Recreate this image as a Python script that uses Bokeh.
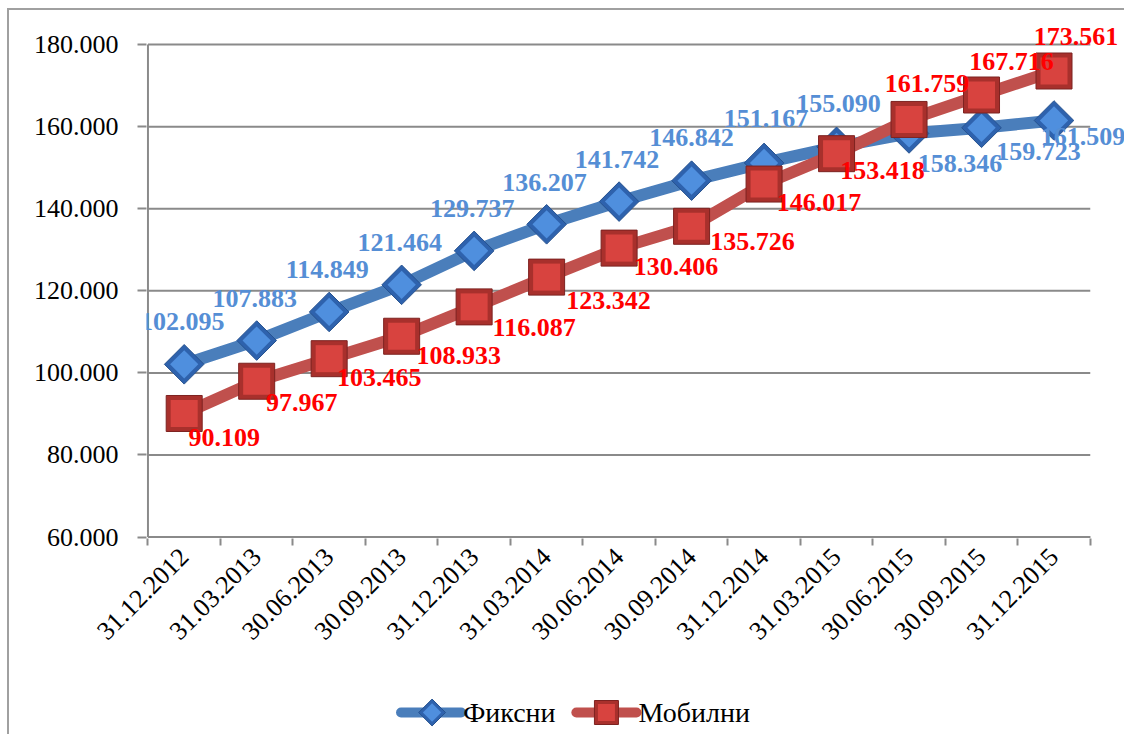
import math
from bokeh.plotting import figure
from bokeh.layouts import column
from bokeh.models import ColumnDataSource, Range1d, FixedTicker, LabelSet
from bokeh.core.properties import value
from bokeh.embed import file_html
from bokeh.resources import INLINE

# ---- data ----
dates = ["31.12.2012", "31.03.2013", "30.06.2013", "30.09.2013", "31.12.2013",
         "31.03.2014", "30.06.2014", "30.09.2014", "31.12.2014", "31.03.2015",
         "30.06.2015", "30.09.2015", "31.12.2015"]
fixed = [102095, 107883, 114849, 121464, 129737, 136207, 141742, 146842,
         151167, 155090, 158346, 159723, 161509]
mobile = [90109, 97967, 103465, 108933, 116087, 123342, 130406, 135726,
          146017, 153418, 161759, 167716, 173561]
fixed_text = ["102.095", "107.883", "114.849", "121.464", "129.737", "136.207", "141.742",
              "146.842", "151.167", "155.090", "158.346", "159.723", "161.509"]
mobile_text = ["90.109", "97.967", "103.465", "108.933", "116.087", "123.342", "130.406",
               "135.726", "146.017", "153.418", "161.759", "167.716", "173.561"]
y_ticks = [60000, 80000, 100000, 120000, 140000, 160000, 180000]
y_tick_labels = ["60.000", "80.000", "100.000", "120.000", "140.000", "160.000", "180.000"]
series_names = ["Фиксни", "Мобилни"]

# label placement offsets (screen px; dy positive = up)
fixed_dx = [-2, -2, -2, -2, -2, -2, -2, 0, 2, 2, 51, 57, 29]
fixed_dy = [43, 42, 42, 42, 42, 42, 42, 43, 44, 43, -30, -24, -16]
mobile_dx = [40, 45, 50, 57, 60, 62, 57, 61, 55, 46, 18, 30, 22]
mobile_dy = [-24, -21, -19, -19, -21, -23, -18, -15, -18, -17, 36, 34, 35]

FONT = "Liberation Serif"
GRID = "#8a8a8a"
BORDER = "2px solid #a0a0a0"
BLUE_LINE, BLUE_DARK, BLUE_LIGHT = "#4a7ebb", "#2e62ad", "#4f8fde"
RED_LINE, RED_DARK, RED_LIGHT = "#c0504d", "#a8302c", "#d8433f"

n = len(dates)
xs = [i + 0.5 for i in range(n)]
y_lo, y_hi = y_ticks[0], y_ticks[-1]

W, LEFT = 1117, 137

p = figure(width=W, height=676, output_backend="svg", toolbar_location=None,
           x_range=Range1d(-0.02, 13.5), y_range=Range1d(59650, 185870),
           min_border_left=LEFT, min_border_top=10, min_border_right=0, min_border_bottom=148)
p.styles = {"margin-left": "7px", "margin-top": "8px", "border-left": BORDER, "border-top": BORDER}
p.outline_line_color = None
p.background_fill_color = "white"
p.border_fill_color = "white"
p.xgrid.visible = False
p.ygrid.visible = False

# x axis
p.xaxis.ticker = FixedTicker(ticks=xs, minor_ticks=list(range(n + 1)))
p.xaxis.major_label_overrides = {x: d for x, d in zip(xs, dates)}
p.xaxis.major_tick_line_color = None
p.xaxis.minor_tick_out = 7
p.xaxis.minor_tick_in = 0
p.xaxis.minor_tick_line_color = GRID
p.xaxis.minor_tick_line_width = 2
p.xaxis.axis_line_color = None
p.xaxis.major_label_orientation = math.pi / 4
p.xaxis.major_label_text_font = FONT
p.xaxis.major_label_text_font_size = "26px"
p.xaxis.major_label_text_color = "black"
p.xaxis.major_label_standoff = 7

# y axis
p.yaxis.ticker = FixedTicker(ticks=y_ticks)
p.yaxis.major_label_overrides = {t: l for t, l in zip(y_ticks, y_tick_labels)}
p.yaxis.major_tick_out = 9
p.yaxis.major_tick_in = 0
p.yaxis.minor_tick_line_color = None
p.yaxis.major_tick_line_color = GRID
p.yaxis.major_tick_line_width = 2
p.yaxis.axis_line_color = None
p.yaxis.major_label_text_font = FONT
p.yaxis.major_label_text_font_size = "26px"
p.yaxis.major_label_text_color = "black"
p.yaxis.major_label_standoff = 19

# gridlines and axis lines limited to the plot area
p.segment(x0=[0] * len(y_ticks), x1=[n] * len(y_ticks), y0=y_ticks, y1=y_ticks,
          line_color=GRID, line_width=2)
p.segment(x0=[0], x1=[0], y0=[y_lo], y1=[y_hi], line_color=GRID, line_width=2)

src_f = ColumnDataSource(dict(x=xs, y=fixed, t=fixed_text, dx=fixed_dx, dy=fixed_dy))
src_m = ColumnDataSource(dict(x=xs, y=mobile, t=mobile_text, dx=mobile_dx, dy=mobile_dy))

# fixed series
p.line("x", "y", source=src_f, line_color=BLUE_LINE, line_width=12, line_join="round", line_cap="round")
p.scatter("x", "y", source=src_f, marker="square", angle=math.pi / 4, size=28,
          fill_color=BLUE_DARK, line_color="#26528f", line_width=1)
p.scatter("x", "y", source=src_f, marker="square", angle=math.pi / 4, size=20,
          fill_color=BLUE_LIGHT, line_color=None)

# mobile series
p.line("x", "y", source=src_m, line_color=RED_LINE, line_width=12, line_join="round", line_cap="round")
p.scatter("x", "y", source=src_m, marker="square", size=36,
          fill_color=RED_DARK, line_color="#7d2220", line_width=1)
p.scatter("x", "y", source=src_m, marker="square", size=27,
          fill_color=RED_LIGHT, line_color=None)

p.add_layout(LabelSet(x="x", y="y", text="t", source=src_f, x_offset="dx", y_offset="dy",
                      text_align="center", text_baseline="middle", text_font=value(FONT),
                      text_font_style="bold", text_font_size="26px", text_color="#558ed5"))
p.add_layout(LabelSet(x="x", y="y", text="t", source=src_m, x_offset="dx", y_offset="dy",
                      text_align="center", text_baseline="middle", text_font=value(FONT),
                      text_font_style="bold", text_font_size="26px", text_color="#ff0000"))

# x-axis line
p.segment(x0=[0], x1=[n], y0=[y_lo], y1=[y_lo], line_color=GRID, line_width=2)

# ---- legend strip (own small figure, frame aligned with the main one; x in canvas px) ----
lg = figure(width=W, height=50, output_backend="svg", toolbar_location=None,
            x_axis_type=None, y_axis_type=None,
            x_range=Range1d(LEFT, W - 2), y_range=Range1d(0, 50),
            min_border_left=LEFT, min_border_right=0, min_border_top=0, min_border_bottom=0)
lg.styles = {"margin-left": "7px", "border-left": BORDER}
lg.grid.visible = False
lg.outline_line_color = None
lg.background_fill_color = "white"
lg.border_fill_color = "white"

LY = 22
lg.line([391, 451], [LY, LY], line_color=BLUE_LINE, line_width=10, line_cap="round")
lg.scatter([422], [LY], marker="square", angle=math.pi / 4, size=19,
           fill_color=BLUE_DARK, line_color="#26528f", line_width=1)
lg.scatter([422], [LY], marker="square", angle=math.pi / 4, size=13,
           fill_color=BLUE_LIGHT, line_color=None)
lg.line([566, 626], [LY, LY], line_color=RED_LINE, line_width=10, line_cap="round")
lg.scatter([596], [LY], marker="square", size=24,
           fill_color=RED_DARK, line_color="#7d2220", line_width=1)
lg.scatter([596], [LY], marker="square", size=17,
           fill_color=RED_LIGHT, line_color=None)
lg.text(x=[453, 628], y=[LY, LY], text=series_names, text_align="left", text_baseline="middle",
        text_font=value(FONT), text_font_size="28px", text_color="black")

layout = column(p, lg, spacing=0)
open("out.html", "w").write(file_html(layout, INLINE))
